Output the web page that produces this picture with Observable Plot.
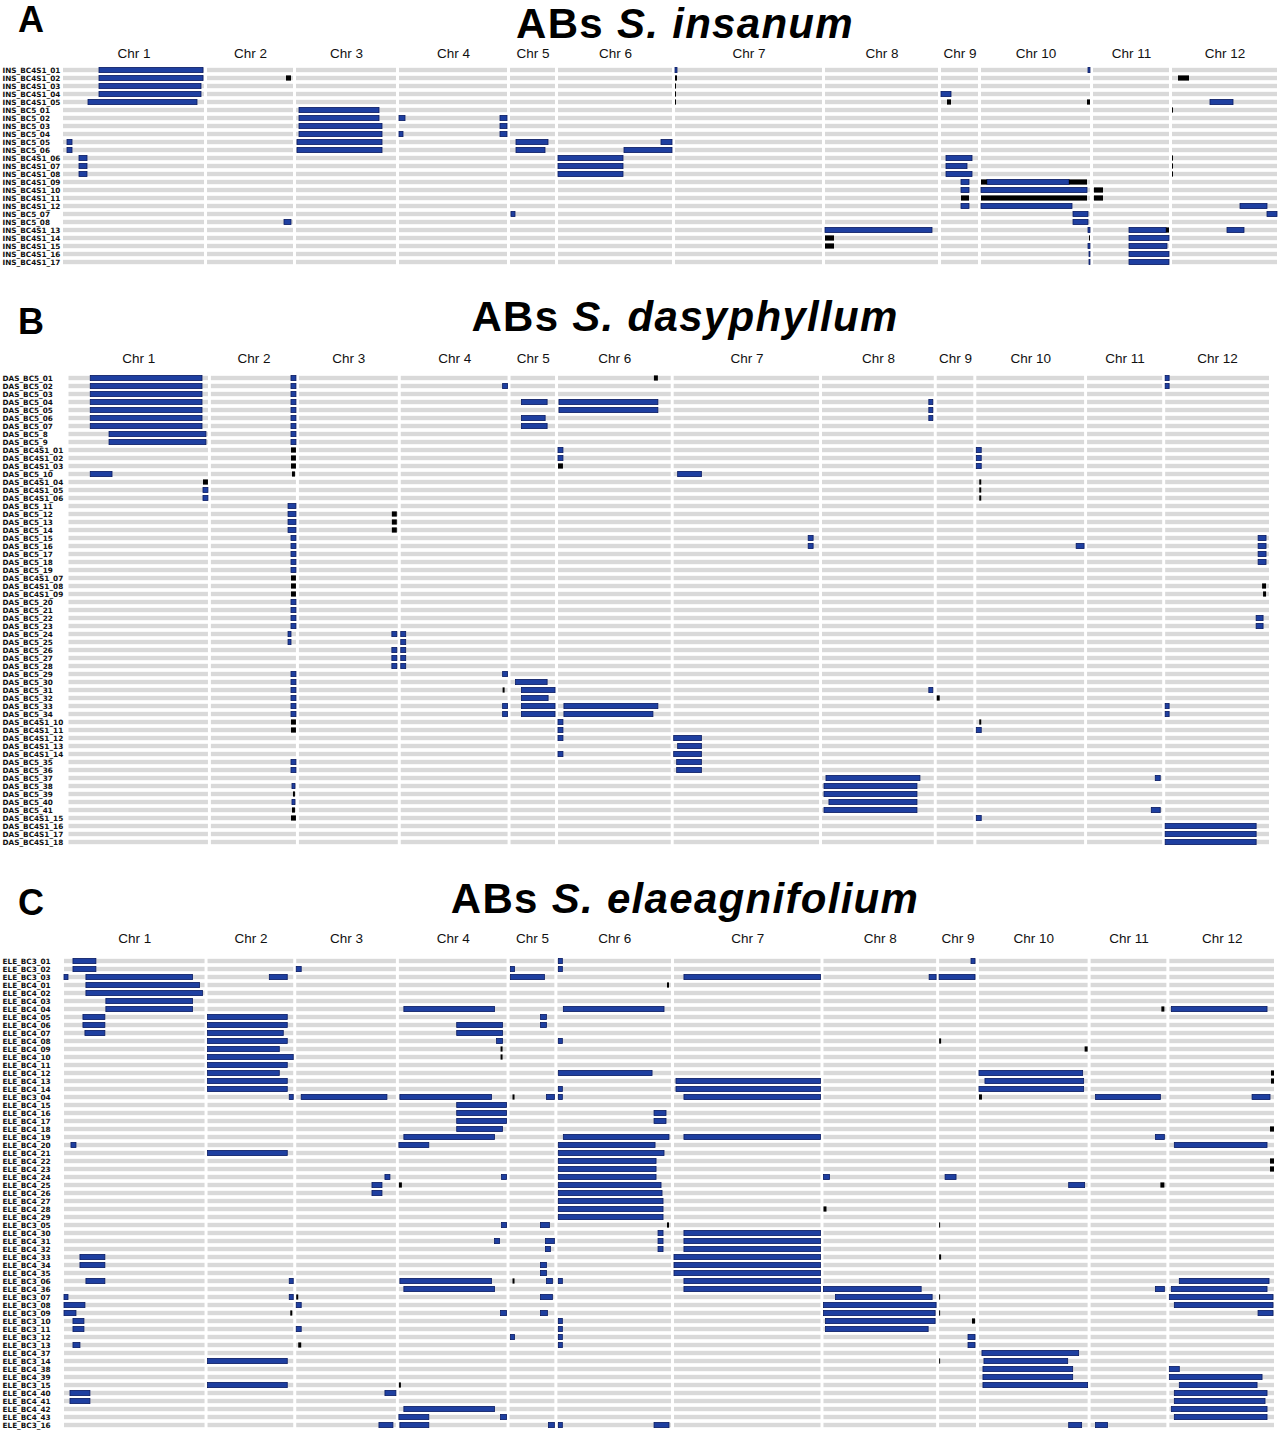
<!DOCTYPE html>
<html><head><meta charset="utf-8">
<script src="https://cdn.jsdelivr.net/npm/d3@7"></script>
<script src="https://cdn.jsdelivr.net/npm/@observablehq/plot@0.6"></script>
<style>
body{margin:0;background:#fff;}
#page{position:relative;width:1280px;height:1438px;overflow:hidden;font-family:Arial,"Liberation Sans",sans-serif;color:#000;}
.panel{position:absolute;left:0;}
.letter{position:absolute;font-weight:bold;font-size:36px;line-height:36px;}
.title{position:absolute;left:0;width:1370px;text-align:center;font-weight:bold;font-size:42px;line-height:42px;white-space:nowrap;letter-spacing:1.3px;}
</style></head><body><div id="page"></div>
<script>
// ---- chromosomes (lengths in map units) ----
const chromosomes = ["Chr 1","Chr 2","Chr 3","Chr 4","Chr 5","Chr 6","Chr 7","Chr 8","Chr 9","Chr 10","Chr 11","Chr 12"];
const chrLengths = [141, 86, 100, 108, 45, 114, 147, 113, 37, 109, 76, 105];
const chrGap = 3;

// ---- panel titles ----
const panelLetters = ["A", "B", "C"];
const panelSpecies = ["S. insanum", "S. dasyphyllum", "S. elaeagnifolium"];

// ---- lines ----
const rowsA = ["INS_BC4S1_01","INS_BC4S1_02","INS_BC4S1_03","INS_BC4S1_04","INS_BC4S1_05","INS_BC5_01","INS_BC5_02","INS_BC5_03","INS_BC5_04","INS_BC5_05","INS_BC5_06","INS_BC4S1_06","INS_BC4S1_07","INS_BC4S1_08","INS_BC4S1_09","INS_BC4S1_10","INS_BC4S1_11","INS_BC4S1_12","INS_BC5_07","INS_BC5_08","INS_BC4S1_13","INS_BC4S1_14","INS_BC4S1_15","INS_BC4S1_16","INS_BC4S1_17"];
const rowsB = ["DAS_BC5_01","DAS_BC5_02","DAS_BC5_03","DAS_BC5_04","DAS_BC5_05","DAS_BC5_06","DAS_BC5_07","DAS_BC5_8","DAS_BC5_9","DAS_BC4S1_01","DAS_BC4S1_02","DAS_BC4S1_03","DAS_BC5_10","DAS_BC4S1_04","DAS_BC4S1_05","DAS_BC4S1_06","DAS_BC5_11","DAS_BC5_12","DAS_BC5_13","DAS_BC5_14","DAS_BC5_15","DAS_BC5_16","DAS_BC5_17","DAS_BC5_18","DAS_BC5_19","DAS_BC4S1_07","DAS_BC4S1_08","DAS_BC4S1_09","DAS_BC5_20","DAS_BC5_21","DAS_BC5_22","DAS_BC5_23","DAS_BC5_24","DAS_BC5_25","DAS_BC5_26","DAS_BC5_27","DAS_BC5_28","DAS_BC5_29","DAS_BC5_30","DAS_BC5_31","DAS_BC5_32","DAS_BC5_33","DAS_BC5_34","DAS_BC4S1_10","DAS_BC4S1_11","DAS_BC4S1_12","DAS_BC4S1_13","DAS_BC4S1_14","DAS_BC5_35","DAS_BC5_36","DAS_BC5_37","DAS_BC5_38","DAS_BC5_39","DAS_BC5_40","DAS_BC5_41","DAS_BC4S1_15","DAS_BC4S1_16","DAS_BC4S1_17","DAS_BC4S1_18"];
const rowsC = ["ELE_BC3_01","ELE_BC3_02","ELE_BC3_03","ELE_BC4_01","ELE_BC4_02","ELE_BC4_03","ELE_BC4_04","ELE_BC4_05","ELE_BC4_06","ELE_BC4_07","ELE_BC4_08","ELE_BC4_09","ELE_BC4_10","ELE_BC4_11","ELE_BC4_12","ELE_BC4_13","ELE_BC4_14","ELE_BC3_04","ELE_BC4_15","ELE_BC4_16","ELE_BC4_17","ELE_BC4_18","ELE_BC4_19","ELE_BC4_20","ELE_BC4_21","ELE_BC4_22","ELE_BC4_23","ELE_BC4_24","ELE_BC4_25","ELE_BC4_26","ELE_BC4_27","ELE_BC4_28","ELE_BC4_29","ELE_BC3_05","ELE_BC4_30","ELE_BC4_31","ELE_BC4_32","ELE_BC4_33","ELE_BC4_34","ELE_BC4_35","ELE_BC3_06","ELE_BC4_36","ELE_BC3_07","ELE_BC3_08","ELE_BC3_09","ELE_BC3_10","ELE_BC3_11","ELE_BC3_12","ELE_BC3_13","ELE_BC4_37","ELE_BC3_14","ELE_BC4_38","ELE_BC4_39","ELE_BC3_15","ELE_BC4_40","ELE_BC4_41","ELE_BC4_42","ELE_BC4_43","ELE_BC3_16"];

// ---- introgression segments: [line index, chromosome, start, end, genotype] ----
const segA = [
[0,1,36,140,"het"],[0,7,0,2,"het"],[0,10,107,109,"het"],
[1,1,36,140,"het"],[1,2,79,84,"hom"],[1,7,0,2,"hom"],[1,12,6,17,"hom"],
[2,1,36,138,"het"],[2,7,0,1,"hom"],
[3,1,36,138,"het"],[3,7,0,1,"hom"],[3,9,0,10,"het"],
[4,1,25,134,"het"],[4,7,0,1,"hom"],[4,9,6,10,"hom"],[4,10,106,109,"hom"],[4,12,38,61,"het"],
[5,3,3,83,"het"],[5,12,0,1,"hom"],
[6,3,3,83,"het"],[6,4,0,6,"het"],[6,4,101,108,"het"],
[7,3,3,86,"het"],[7,4,101,108,"het"],
[8,3,3,86,"het"],[8,4,0,4,"het"],[8,4,101,108,"het"],
[9,1,4,9,"het"],[9,3,1,86,"het"],[9,5,6,38,"het"],[9,6,103,114,"het"],
[10,1,4,9,"het"],[10,3,1,86,"het"],[10,5,6,35,"het"],[10,6,66,114,"het"],
[11,1,16,24,"het"],[11,6,0,65,"het"],[11,9,5,31,"het"],[11,12,0,1,"hom"],
[12,1,16,24,"het"],[12,6,0,65,"het"],[12,9,5,26,"het"],[12,12,0,1,"hom"],
[13,1,16,24,"het"],[13,6,0,65,"het"],[13,9,5,31,"het"],[13,12,0,1,"hom"],
[14,9,20,28,"het"],[14,10,0,6,"hom"],[14,10,6,88,"het"],[14,10,88,106,"hom"],
[15,9,20,28,"het"],[15,10,0,106,"het"],[15,11,1,10,"hom"],
[16,9,20,28,"hom"],[16,10,0,106,"hom"],[16,11,1,10,"hom"],
[17,9,20,28,"het"],[17,10,0,91,"het"],[17,12,68,95,"het"],
[18,5,1,5,"het"],[18,10,92,107,"het"],[18,12,95,105,"het"],
[19,2,77,84,"het"],[19,10,92,107,"het"],
[20,8,0,107,"het"],[20,10,107,109,"het"],[20,11,36,73,"het"],[20,11,73,76,"hom"],[20,12,55,72,"het"],
[21,8,0,9,"hom"],[21,10,108,109,"hom"],[21,11,36,76,"het"],
[22,8,0,9,"hom"],[22,10,107,109,"het"],[22,11,36,74,"het"],
[23,10,108,109,"het"],[23,11,36,76,"het"],
[24,10,108,109,"het"],[24,11,36,76,"het"]
];
const segB = [
[0,1,22,135,"het"],[0,2,81,86,"het"],[0,6,97,101,"hom"],[0,12,0,4,"het"],
[1,1,22,135,"het"],[1,2,81,86,"het"],[1,4,103,108,"het"],[1,12,0,4,"het"],
[2,1,22,135,"het"],[2,2,81,86,"het"],
[3,1,22,135,"het"],[3,2,81,86,"het"],[3,5,11,37,"het"],[3,6,1,101,"het"],[3,8,108,112,"het"],
[4,1,22,135,"het"],[4,2,81,86,"het"],[4,6,1,101,"het"],[4,8,108,112,"het"],
[5,1,22,135,"het"],[5,2,81,86,"het"],[5,5,11,35,"het"],[5,8,108,112,"het"],
[6,1,22,135,"het"],[6,2,81,86,"het"],[6,5,11,37,"het"],
[7,1,41,139,"het"],[7,2,81,86,"het"],
[8,1,41,139,"het"],[8,2,81,86,"het"],
[9,2,81,86,"hom"],[9,6,0,5,"het"],[9,10,0,5,"het"],
[10,2,81,86,"hom"],[10,6,0,5,"het"],[10,10,0,5,"het"],
[11,2,81,86,"hom"],[11,6,0,5,"hom"],[11,10,0,5,"het"],
[12,1,22,44,"het"],[12,2,82,85,"hom"],[12,7,4,28,"het"],
[13,1,136,141,"hom"],[13,10,3,5,"hom"],
[14,1,136,141,"het"],[14,10,3,5,"hom"],
[15,1,136,141,"het"],[15,10,3,5,"hom"],
[16,2,78,86,"het"],
[17,2,78,86,"het"],[17,3,94,99,"hom"],
[18,2,78,86,"het"],[18,3,94,99,"hom"],
[19,2,78,86,"het"],[19,3,94,99,"hom"],
[20,2,81,86,"het"],[20,7,136,141,"het"],[20,12,94,102,"het"],
[21,2,81,86,"het"],[21,7,136,141,"het"],[21,10,101,109,"het"],[21,12,94,102,"het"],
[22,2,81,86,"het"],[22,12,94,102,"het"],
[23,2,81,86,"het"],[23,12,94,102,"het"],
[24,2,81,86,"het"],
[25,2,81,86,"hom"],
[26,2,81,86,"hom"],[26,12,98,102,"hom"],
[27,2,81,86,"hom"],[27,12,99,102,"hom"],
[28,2,81,86,"het"],
[29,2,81,86,"het"],
[30,2,81,86,"het"],[30,12,92,99,"het"],
[31,2,81,86,"het"],[31,12,92,99,"het"],
[32,2,78,81,"het"],[32,3,94,99,"het"],[32,4,0,5,"het"],
[33,2,78,81,"het"],[33,4,0,5,"het"],
[34,3,94,99,"het"],[34,4,0,5,"het"],
[35,3,94,99,"het"],[35,4,0,5,"het"],
[36,3,94,99,"het"],[36,4,0,5,"het"],
[37,2,81,86,"het"],[37,4,103,108,"het"],
[38,2,81,86,"het"],[38,5,5,37,"het"],
[39,2,81,86,"het"],[39,4,103,105,"hom"],[39,5,11,45,"het"],[39,8,108,112,"het"],
[40,2,81,86,"het"],[40,5,11,38,"het"],[40,9,0,3,"hom"],
[41,2,81,86,"het"],[41,4,103,108,"het"],[41,5,11,45,"het"],[41,6,6,101,"het"],[41,12,0,4,"het"],
[42,2,81,86,"het"],[42,4,103,108,"het"],[42,5,11,45,"het"],[42,6,6,96,"het"],[42,12,0,4,"het"],
[43,2,81,86,"hom"],[43,6,0,5,"het"],[43,10,3,5,"hom"],
[44,2,81,86,"hom"],[44,6,0,5,"het"],[44,10,0,5,"het"],
[45,6,0,5,"het"],[45,7,0,28,"het"],
[46,7,4,28,"het"],
[47,6,0,5,"het"],[47,7,0,28,"het"],
[48,2,81,86,"het"],[48,7,3,28,"het"],
[49,2,81,86,"het"],[49,7,3,28,"het"],
[50,8,4,99,"het"],[50,11,69,74,"het"],
[51,2,82,85,"het"],[51,8,2,96,"het"],
[52,2,83,85,"hom"],[52,8,2,96,"het"],
[53,2,82,85,"het"],[53,8,7,96,"het"],
[54,2,82,85,"hom"],[54,8,2,96,"het"],[54,11,65,74,"het"],
[55,2,81,86,"hom"],[55,10,0,5,"het"],
[56,12,0,92,"het"],[57,12,0,92,"het"],[58,12,0,92,"het"]
];
const segC = [
[0,1,9,32,"het"],[0,6,1,5,"het"],[0,9,32,36,"het"],
[1,1,9,32,"het"],[1,3,0,5,"het"],[1,5,1,5,"het"],[1,6,1,5,"het"],
[2,1,0,4,"het"],[2,1,22,129,"het"],[2,2,62,80,"het"],[2,5,1,35,"het"],[2,7,10,147,"het"],[2,8,106,113,"het"],[2,9,0,36,"het"],
[3,1,22,136,"het"],[3,6,110,112,"hom"],
[4,1,22,139,"het"],
[5,1,42,129,"het"],
[6,1,42,129,"het"],[6,4,5,96,"het"],[6,6,6,107,"het"],[6,11,71,74,"hom"],[6,12,2,98,"het"],
[7,1,19,41,"het"],[7,2,0,80,"het"],[7,5,31,37,"het"],
[8,1,19,41,"het"],[8,2,0,80,"het"],[8,4,58,104,"het"],[8,5,31,37,"het"],
[9,1,21,41,"het"],[9,2,0,76,"het"],[9,4,58,104,"het"],
[10,2,0,80,"het"],[10,4,98,104,"het"],[10,6,1,5,"het"],[10,9,0,2,"hom"],
[11,2,0,72,"het"],[11,4,102,104,"hom"],[11,10,106,109,"hom"],
[12,2,0,86,"het"],[12,4,102,104,"hom"],
[13,2,0,80,"het"],
[14,2,0,72,"het"],[14,6,1,95,"het"],[14,10,0,104,"het"],[14,12,102,105,"hom"],
[15,2,0,80,"het"],[15,7,2,147,"het"],[15,10,6,105,"het"],[15,12,102,105,"hom"],
[16,2,0,80,"het"],[16,6,1,5,"het"],[16,7,2,147,"het"],[16,10,0,105,"het"],
[17,2,82,86,"het"],[17,3,5,91,"het"],[17,4,1,93,"het"],[17,5,3,5,"hom"],[17,5,37,45,"het"],[17,6,1,5,"het"],[17,7,10,147,"het"],[17,10,0,3,"hom"],[17,11,5,70,"het"],[17,12,83,101,"het"],
[18,4,58,108,"het"],
[19,4,58,108,"het"],[19,6,97,109,"het"],
[20,4,58,108,"het"],[20,6,97,109,"het"],
[21,4,58,104,"het"],[21,12,101,105,"hom"],
[22,4,5,96,"het"],[22,6,6,112,"het"],[22,7,10,147,"het"],[22,11,65,74,"het"],
[23,1,7,12,"het"],[23,4,0,30,"het"],[23,6,1,98,"het"],[23,12,5,98,"het"],
[24,2,0,80,"het"],[24,6,1,107,"het"],
[25,6,1,99,"het"],[25,12,101,105,"hom"],
[26,6,1,99,"het"],[26,12,101,105,"hom"],
[27,3,89,94,"het"],[27,4,103,108,"het"],[27,6,1,99,"het"],[27,8,0,6,"het"],[27,9,6,17,"het"],
[28,3,76,86,"het"],[28,4,0,3,"hom"],[28,6,1,104,"het"],[28,10,90,106,"het"],[28,11,70,74,"hom"],
[29,3,76,86,"het"],[29,6,1,105,"het"],
[30,6,1,106,"het"],
[31,6,1,106,"het"],[31,8,0,3,"hom"],
[32,6,1,106,"het"],
[33,4,103,108,"het"],[33,5,31,40,"het"],[33,6,110,112,"hom"],[33,9,0,1,"hom"],
[34,6,101,106,"het"],[34,7,10,147,"het"],
[35,4,96,101,"het"],[35,5,36,45,"het"],[35,6,101,106,"het"],[35,7,10,147,"het"],
[36,5,36,41,"het"],[36,6,101,106,"het"],[36,7,10,147,"het"],
[37,1,16,41,"het"],[37,7,0,147,"het"],[37,9,0,2,"hom"],
[38,1,16,41,"het"],[38,5,31,37,"het"],[38,7,0,147,"het"],
[39,5,31,37,"het"],[39,7,0,147,"het"],
[40,1,22,41,"het"],[40,2,82,86,"het"],[40,4,1,93,"het"],[40,5,3,5,"hom"],[40,5,37,43,"het"],[40,6,1,5,"het"],[40,7,10,147,"het"],[40,12,10,100,"het"],
[41,4,5,96,"het"],[41,7,10,147,"het"],[41,8,0,98,"het"],[41,11,65,74,"het"],[41,12,2,98,"het"],
[42,1,0,4,"het"],[42,2,82,86,"het"],[42,3,0,2,"hom"],[42,5,31,43,"het"],[42,8,12,109,"het"],[42,9,0,1,"hom"],[42,12,0,104,"het"],
[43,1,0,21,"het"],[43,3,0,5,"het"],[43,8,0,113,"het"],[43,12,5,104,"het"],
[44,1,0,12,"het"],[44,2,83,85,"hom"],[44,4,102,108,"het"],[44,5,31,38,"het"],[44,8,0,112,"het"],[44,9,0,1,"hom"],[44,12,89,104,"het"],
[45,1,9,20,"het"],[45,6,1,5,"het"],[45,8,2,112,"het"],[45,9,33,36,"hom"],
[46,1,9,20,"het"],[46,3,0,5,"het"],[46,6,1,5,"het"],[46,8,2,105,"het"],
[47,5,1,5,"het"],[47,6,1,5,"het"],[47,9,29,36,"het"],
[48,1,9,16,"het"],[48,3,2,5,"hom"],[48,6,1,5,"het"],[48,9,29,36,"het"],
[49,10,3,100,"het"],
[50,2,0,80,"het"],[50,9,0,1,"hom"],[50,10,5,89,"het"],
[51,10,4,94,"het"],[51,12,0,10,"het"],
[52,10,4,94,"het"],[52,12,0,93,"het"],
[53,2,0,80,"het"],[53,4,0,2,"hom"],[53,10,4,109,"het"],[53,12,10,88,"het"],
[54,1,6,26,"het"],[54,3,89,100,"het"],[54,12,5,98,"het"],
[55,1,6,26,"het"],[55,12,5,96,"het"],
[56,4,5,96,"het"],[56,12,2,98,"het"],
[57,4,0,30,"het"],[57,4,102,108,"het"],[57,12,5,98,"het"],
[58,3,83,97,"het"],[58,4,1,30,"het"],[58,5,39,45,"het"],[58,6,1,5,"het"],[58,6,97,112,"het"],[58,10,90,103,"het"],[58,11,5,17,"het"]
];

// ---- derived layout of the genome axis ----
const chrStart = [];
{ let o = 0; chrLengths.forEach(l => { chrStart.push(o); o += l + chrGap; }); }
const genomeEnd = chrStart[11] + chrLengths[11];
const chrMid = chrLengths.map((l, i) => chrStart[i] + l / 2);

function makePanel(rows, segs, o) {
  const bg = rows.flatMap(r => chrLengths.map((l, i) => ({row: r, x1: chrStart[i], x2: chrStart[i] + l})));
  const seg = segs.map(([ri, c, s, e, g]) => ({
    row: rows[ri], x1: chrStart[c - 1] + s, x2: chrStart[c - 1] + Math.min(e, chrLengths[c - 1]), g
  }));
  return Plot.plot({
    width: 1280, height: o.height,
    marginLeft: o.left, marginRight: o.right, marginTop: o.top, marginBottom: o.bottom,
    x: {domain: [0, genomeEnd]},
    y: {type: "band", domain: rows, padding: 0},
    style: {background: "transparent", fontFamily: "Arial, 'Liberation Sans', sans-serif", color: "#000"},
    marks: [
      Plot.barX(bg, {x1: "x1", x2: "x2", y: "row", fill: "#d9d9d9", insetTop: 1.8, insetBottom: 1.8}),
      Plot.barX(seg.filter(d => d.g === "het"), {x1: "x1", x2: "x2", y: "row", fill: "#1e3fa0", stroke: "#0b1c63", strokeWidth: 0.8, insetTop: 1.4, insetBottom: 1.4}),
      Plot.barX(seg.filter(d => d.g === "hom"), {x1: "x1", x2: "x2", y: "row", fill: "#000", insetTop: 1.4, insetBottom: 1.4}),
      Plot.axisX({anchor: "top", ticks: chrMid, tickFormat: d => chromosomes[chrMid.indexOf(d)], tickSize: 0, tickPadding: o.chrPad, fontSize: 13.5, fill: "#111", label: null}),
      Plot.axisY({anchor: "left", tickSize: 0, tickPadding: 0, textAnchor: "start", dx: 2 - o.left, fontSize: 7.3, fontWeight: "bold", fontFamily: "'DejaVu Sans', Arial, sans-serif", fill: "#111", label: null})
    ]
  });
}

const page = document.getElementById("page");
const panels = [
  {rows: rowsA, segs: segA, top: 39.85, letterTop: 2, titleTop: 2.6, opt: {height: 232, left: 63, right: 3, top: 22, bottom: 2.7, chrPad: 5}},
  {rows: rowsB, segs: segB, top: 344.9, letterTop: 303.5, titleTop: 296.4, opt: {height: 510, left: 68.5, right: 11, top: 22, bottom: 1.8, chrPad: 5}},
  {rows: rowsC, segs: segC, top: 926.9, letterTop: 884.5, titleTop: 878.4, opt: {height: 511, left: 64, right: 6, top: 22, bottom: 1.7, chrPad: 7}}
];
panels.forEach((p, i) => {
  const letter = document.createElement("div");
  letter.className = "letter";
  letter.style.left = "18px";
  letter.style.top = p.letterTop + "px";
  letter.textContent = panelLetters[i];
  page.appendChild(letter);
  const title = document.createElement("div");
  title.className = "title";
  title.style.top = p.titleTop + "px";
  title.innerHTML = "ABs <i>" + panelSpecies[i] + "</i>";
  page.appendChild(title);
  const holder = document.createElement("div");
  holder.className = "panel";
  holder.style.top = p.top + "px";
  holder.appendChild(makePanel(p.rows, p.segs, p.opt));
  page.appendChild(holder);
});
</script>
</body></html>
